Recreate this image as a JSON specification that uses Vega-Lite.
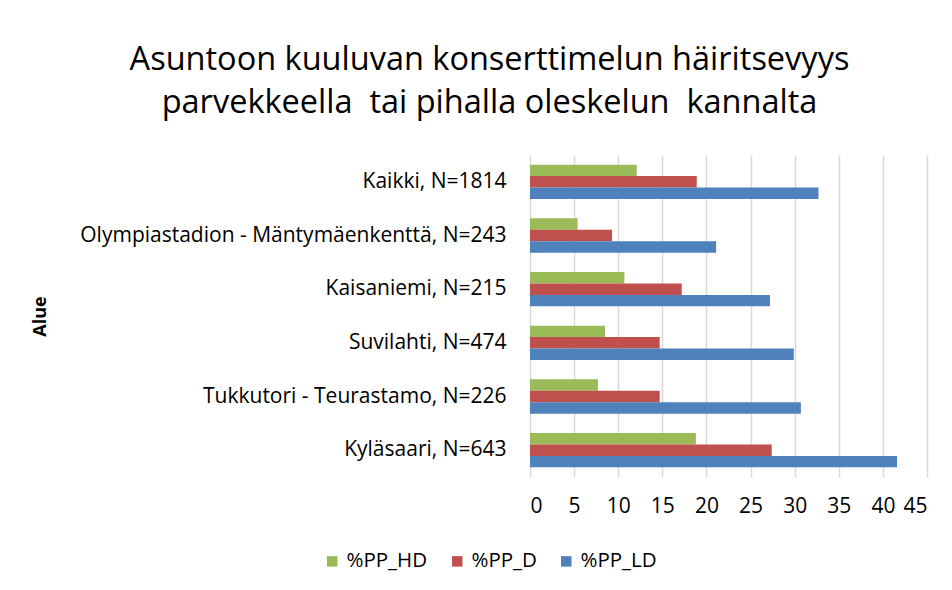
{
  "$schema": "https://vega.github.io/schema/vega-lite/v6.json",
  "width": 397,
  "height": 322,
  "autosize": "none",
  "padding": {"left": 530, "top": 155, "right": 25, "bottom": 113},
  "background": "white",
  "config": {
    "font": "Open Sans",
    "view": {"stroke": null}
  },
  "title": {
    "text": ["Asuntoon kuuluvan konserttimelun häiritsevyys", "parvekkeella\u00a0 tai pihalla oleskelun\u00a0 kannalta"],
    "fontSize": 32.5,
    "fontWeight": "normal",
    "color": "#000000",
    "lineHeight": 43,
    "anchor": "middle",
    "dx": -239,
    "offset": 36
  },
  "data": {
    "values": [
      {"alue": "Kaikki, N=1814", "sarja": "%PP_HD", "arvo": 12.1},
      {"alue": "Kaikki, N=1814", "sarja": "%PP_D", "arvo": 18.9},
      {"alue": "Kaikki, N=1814", "sarja": "%PP_LD", "arvo": 32.7},
      {"alue": "Olympiastadion - Mäntymäenkenttä, N=243", "sarja": "%PP_HD", "arvo": 5.4},
      {"alue": "Olympiastadion - Mäntymäenkenttä, N=243", "sarja": "%PP_D", "arvo": 9.3},
      {"alue": "Olympiastadion - Mäntymäenkenttä, N=243", "sarja": "%PP_LD", "arvo": 21.1},
      {"alue": "Kaisaniemi, N=215", "sarja": "%PP_HD", "arvo": 10.7},
      {"alue": "Kaisaniemi, N=215", "sarja": "%PP_D", "arvo": 17.2},
      {"alue": "Kaisaniemi, N=215", "sarja": "%PP_LD", "arvo": 27.2},
      {"alue": "Suvilahti, N=474", "sarja": "%PP_HD", "arvo": 8.5},
      {"alue": "Suvilahti, N=474", "sarja": "%PP_D", "arvo": 14.7},
      {"alue": "Suvilahti, N=474", "sarja": "%PP_LD", "arvo": 29.9},
      {"alue": "Tukkutori - Teurastamo, N=226", "sarja": "%PP_HD", "arvo": 7.7},
      {"alue": "Tukkutori - Teurastamo, N=226", "sarja": "%PP_D", "arvo": 14.7},
      {"alue": "Tukkutori - Teurastamo, N=226", "sarja": "%PP_LD", "arvo": 30.7},
      {"alue": "Kyläsaari, N=643", "sarja": "%PP_HD", "arvo": 18.8},
      {"alue": "Kyläsaari, N=643", "sarja": "%PP_D", "arvo": 27.4},
      {"alue": "Kyläsaari, N=643", "sarja": "%PP_LD", "arvo": 41.6}
    ]
  },
  "mark": {"type": "bar"},
  "encoding": {
    "y": {
      "field": "alue",
      "type": "nominal",
      "sort": null,
      "scale": {"paddingInner": 0.36, "paddingOuter": 0.18},
      "axis": {
        "title": "Alue",
        "titleFontSize": 18,
        "titleFontWeight": "bold",
        "titleColor": "#000000",
        "titleAngle": -90,
        "titleX": -490,
        "titleY": 161,
        "titleAlign": "center",
        "titleBaseline": "middle",
        "labelFontSize": 21,
        "labelColor": "#000000",
        "labelPadding": 24,
        "labelLimit": 0,
        "ticks": false,
        "domain": false
      }
    },
    "x": {
      "field": "arvo",
      "type": "quantitative",
      "scale": {"domain": [0, 45], "nice": false},
      "axis": {
        "title": null,
        "values": [0, 5, 10, 15, 20, 25, 30, 35, 40, 45],
        "labelFontSize": 21,
        "labelColor": "#000000",
        "labelPadding": 18,
        "ticks": false,
        "domain": false,
        "grid": true,
        "gridColor": "#d9d9d9",
        "gridWidth": 1.5
      }
    },
    "yOffset": {
      "field": "sarja",
      "type": "nominal",
      "sort": ["%PP_HD", "%PP_D", "%PP_LD"]
    },
    "color": {
      "field": "sarja",
      "type": "nominal",
      "sort": ["%PP_HD", "%PP_D", "%PP_LD"],
      "scale": {
        "domain": ["%PP_HD", "%PP_D", "%PP_LD"],
        "range": ["#9BBB59", "#C0504D", "#4F81BD"]
      },
      "legend": {
        "title": null,
        "orient": "none",
        "direction": "horizontal",
        "legendX": -208,
        "legendY": 396,
        "symbolType": "square",
        "symbolSize": 110,
        "symbolStrokeWidth": 0,
        "labelFontSize": 20.5,
        "labelColor": "#000000",
        "columnPadding": 19,
        "labelOffset": 4
      }
    }
  }
}
